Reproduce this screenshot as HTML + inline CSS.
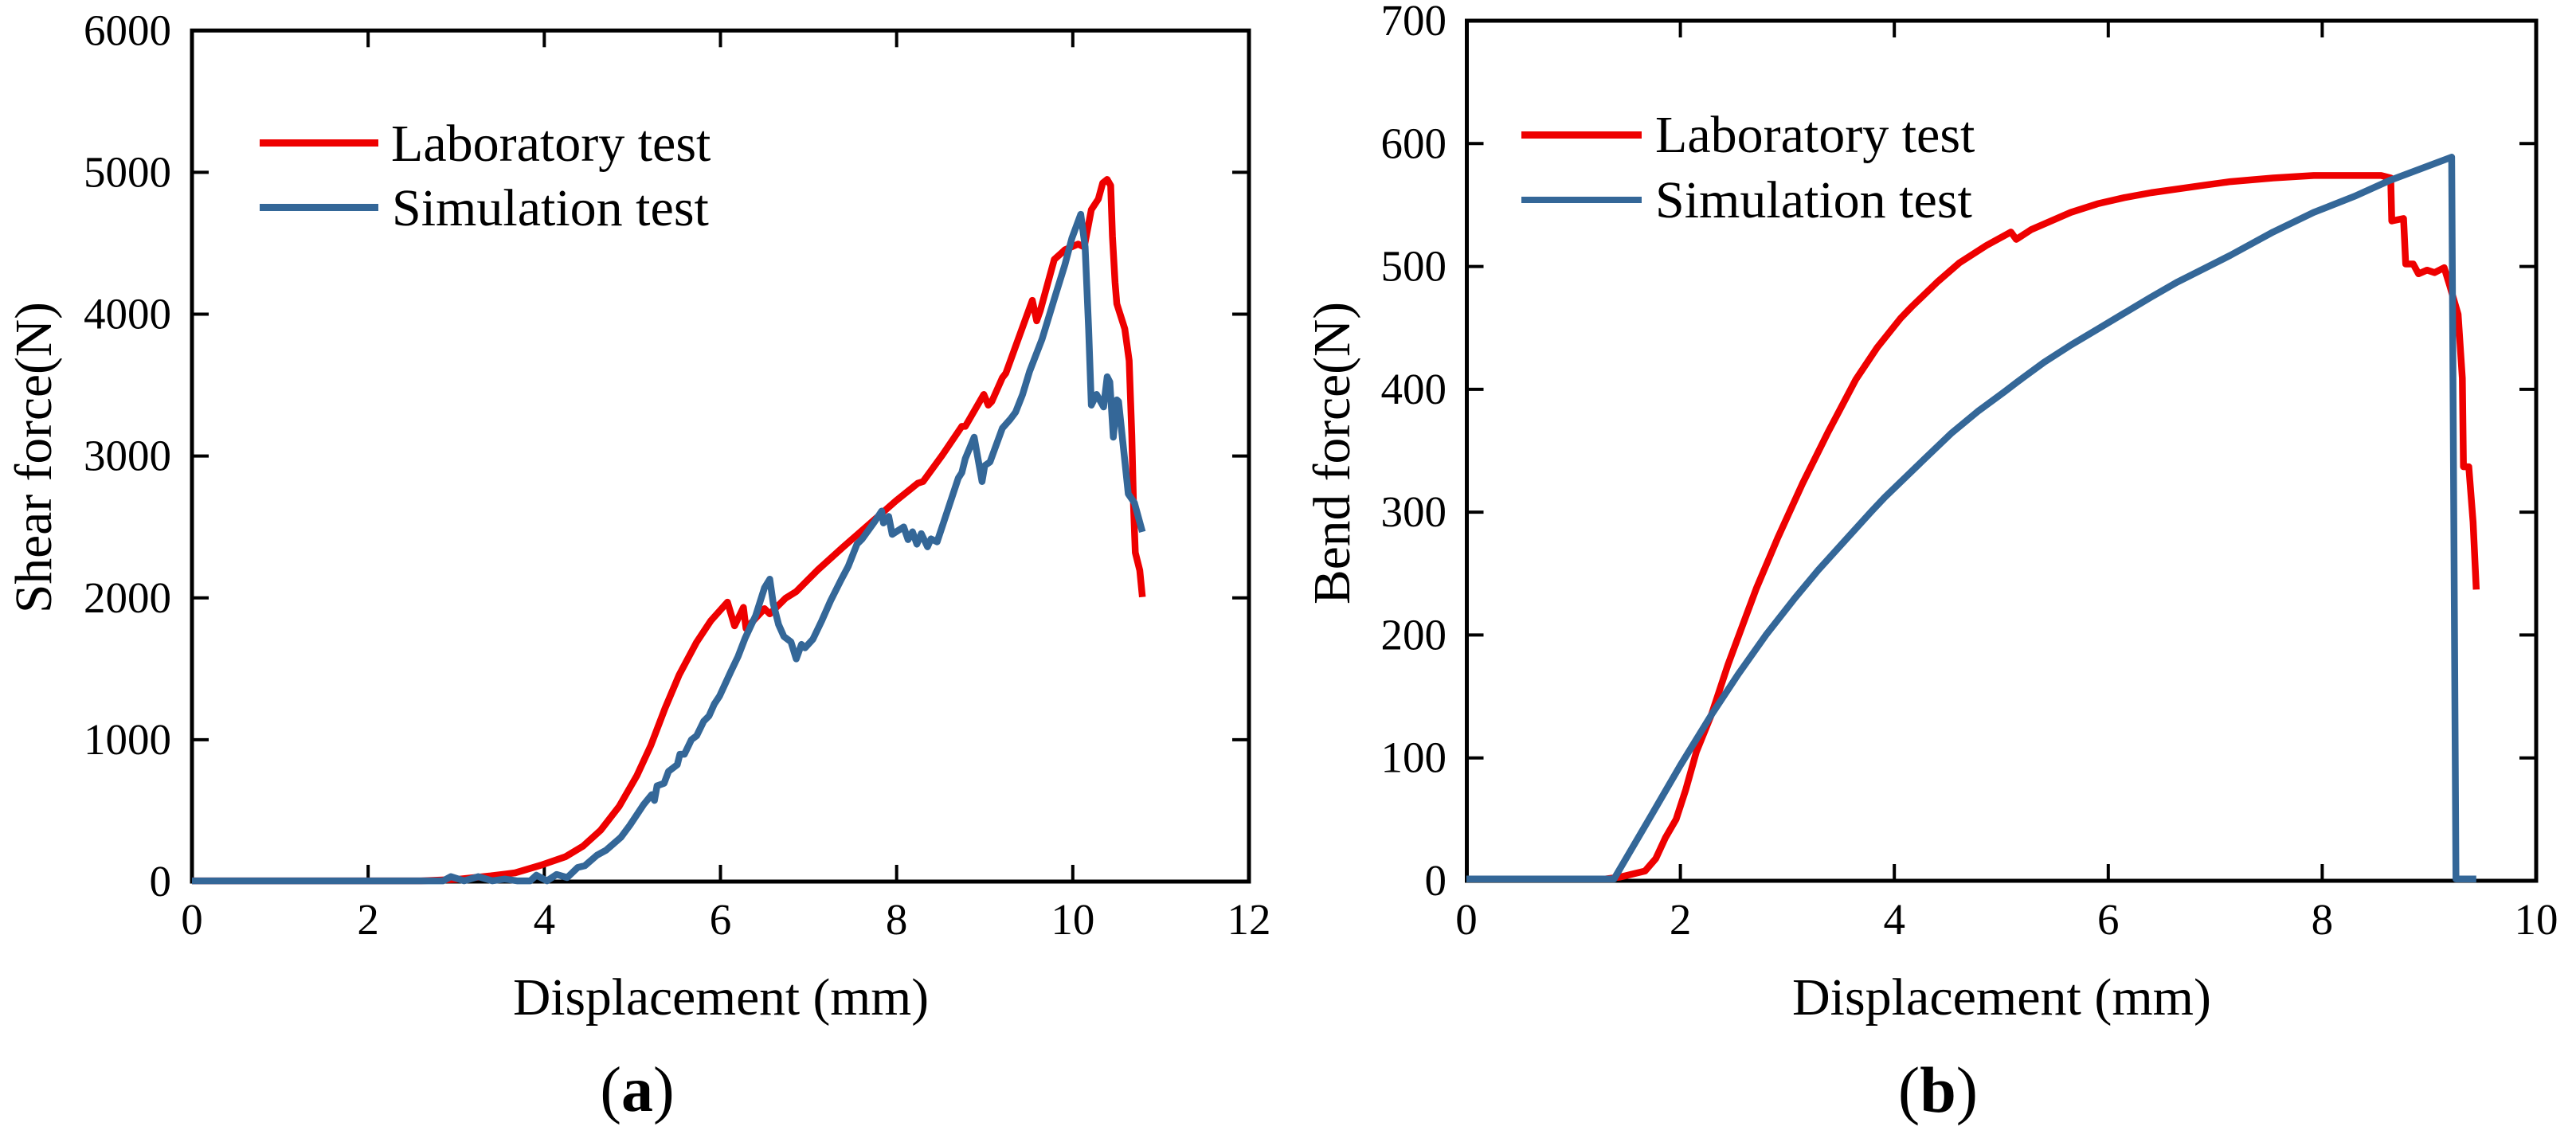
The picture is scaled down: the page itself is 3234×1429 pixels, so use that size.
<!DOCTYPE html>
<html lang="en">
<head>
<meta charset="utf-8">
<title>Shear and bend force versus displacement</title>
<style>
html,body{margin:0;padding:0;background:#fff;width:3234px;height:1429px;overflow:hidden}
svg{display:block}
text{font-family:"Liberation Serif","Times New Roman",serif;fill:#000}
</style>
</head>
<body>
<svg id="figure" xmlns="http://www.w3.org/2000/svg" width="3234" height="1429" viewBox="0 0 3234 1429">
  <rect x="0" y="0" width="3234" height="1429" fill="#ffffff"/>

  <g id="chart-a"></g>
  <g id="chart-b"></g>

  <text x="644" y="1274" font-size="65.5">Displacement (mm)</text>
  <text transform="translate(64,770) rotate(-90)" font-size="65.5">Shear force(N)</text>
  <text x="800" y="1395" font-size="80" text-anchor="middle">(<tspan font-weight="bold">a</tspan>)</text>

  <text x="2250" y="1274" font-size="66">Displacement (mm)</text>
  <text transform="translate(1694,759) rotate(-90)" font-size="65.5">Bend force(N)</text>
  <text x="2433" y="1396" font-size="82" text-anchor="middle">(<tspan font-weight="bold">b</tspan>)</text>

  <g>
    <rect x="326" y="175" width="149" height="9" fill="#ee0000"/>
    <text x="491" y="202" font-size="66">Laboratory test</text>
    <rect x="326" y="256" width="149" height="9" fill="#346798"/>
    <text x="492" y="283" font-size="66">Simulation test</text>
  </g>
  <g>
    <rect x="1910" y="165" width="151" height="9" fill="#ee0000"/>
    <text x="2078" y="191" font-size="66">Laboratory test</text>
    <rect x="1910" y="247" width="151" height="8" fill="#346798"/>
    <text x="2078" y="273" font-size="66">Simulation test</text>
  </g>
</svg>

<script>
// Chart (a): shear force versus displacement
var aXTicks = [0, 2, 4, 6, 8, 10, 12];
var aYTicks = [0, 1000, 2000, 3000, 4000, 5000, 6000];
var aLabX = [0, 2.6, 3.0, 3.39, 3.67, 3.96, 4.24, 4.44, 4.64, 4.85, 5.05, 5.21, 5.37, 5.53, 5.73, 5.89, 6.08, 6.16, 6.26, 6.29, 6.50, 6.56, 6.74, 6.86, 7.10, 7.39, 7.55, 7.99, 8.24, 8.30, 8.52, 8.74, 8.78, 8.99, 9.04, 9.08, 9.20, 9.24, 9.54, 9.59, 9.63, 9.79, 9.87, 9.91, 10.06, 10.13, 10.21, 10.29, 10.34, 10.39, 10.43, 10.45, 10.48, 10.50, 10.59, 10.64, 10.67, 10.69, 10.71, 10.76, 10.79];
var aLabY = [5, 5, 15, 40, 62, 115, 175, 250, 362, 530, 745, 960, 1220, 1455, 1688, 1838, 1970, 1803, 1933, 1784, 1924, 1887, 1998, 2044, 2194, 2357, 2444, 2683, 2808, 2820, 3008, 3209, 3209, 3434, 3359, 3384, 3552, 3584, 4098, 3953, 4023, 4386, 4431, 4454, 4494, 4474, 4737, 4812, 4925, 4950, 4907, 4549, 4223, 4073, 3897, 3672, 3146, 2645, 2319, 2194, 2006];
var aSimX = [0, 2.85, 2.94, 3.09, 3.25, 3.41, 3.55, 3.69, 3.84, 3.91, 4.03, 4.14, 4.26, 4.38, 4.46, 4.60, 4.70, 4.87, 4.97, 5.13, 5.22, 5.25, 5.28, 5.36, 5.41, 5.51, 5.54, 5.59, 5.67, 5.73, 5.81, 5.87, 5.93, 5.99, 6.12, 6.20, 6.28, 6.40, 6.50, 6.56, 6.60, 6.66, 6.72, 6.80, 6.86, 6.92, 6.96, 7.05, 7.15, 7.25, 7.37, 7.45, 7.55, 7.61, 7.75, 7.83, 7.85, 7.91, 7.95, 8.08, 8.13, 8.18, 8.23, 8.28, 8.35, 8.39, 8.46, 8.54, 8.70, 8.74, 8.78, 8.88, 8.97, 9.00, 9.06, 9.20, 9.29, 9.35, 9.43, 9.51, 9.65, 9.81, 9.91, 9.99, 10.09, 10.14, 10.18, 10.21, 10.27, 10.35, 10.39, 10.42, 10.46, 10.50, 10.52, 10.63, 10.70, 10.79];
var aSimY = [5, 5, 35, 5, 35, 5, 18, 5, 5, 45, 5, 50, 28, 100, 112, 187, 220, 312, 396, 545, 613, 572, 675, 693, 777, 824, 898, 898, 1000, 1028, 1131, 1168, 1252, 1308, 1484, 1587, 1717, 1875, 2071, 2132, 1960, 1811, 1728, 1690, 1570, 1672, 1648, 1709, 1839, 1979, 2128, 2221, 2379, 2416, 2537, 2612, 2528, 2574, 2448, 2500, 2411, 2466, 2379, 2453, 2360, 2416, 2395, 2545, 2845, 2883, 2983, 3133, 2820, 2933, 2958, 3196, 3259, 3309, 3434, 3597, 3822, 4148, 4348, 4536, 4704, 4474, 3897, 3359, 3434, 3346, 3559, 3522, 3133, 3396, 3384, 2733, 2670, 2465];

// Chart (b): bend force versus displacement
var bXTicks = [0, 2, 4, 6, 8, 10];
var bYTicks = [0, 100, 200, 300, 400, 500, 600, 700];
var bLabX = [0, 1.3, 1.435, 1.67, 1.77, 1.86, 1.96, 2.05, 2.15, 2.29, 2.445, 2.62, 2.71, 2.91, 3.14, 3.38, 3.64, 3.84, 4.06, 4.16, 4.41, 4.61, 4.86, 5.09, 5.14, 5.28, 5.65, 5.90, 6.15, 6.40, 6.64, 6.89, 7.14, 7.54, 7.92, 8.55, 8.64, 8.65, 8.76, 8.78, 8.85, 8.90, 8.98, 9.05, 9.14, 9.19, 9.27, 9.31, 9.32, 9.37, 9.41, 9.44];
var bLabY = [1.5, 1.5, 3, 8, 18, 35, 50, 74, 105, 135, 176, 217, 238, 279, 323, 365, 408, 434, 458, 467, 488, 503, 517, 528, 522, 530, 544, 551, 556, 560, 563, 566, 569, 572, 574, 574, 572, 537, 539, 502, 502, 494, 497, 495, 499, 485, 461, 409, 337, 337, 292, 237];
var bSimX = [0, 1.38, 1.74, 2.0, 2.29, 2.54, 2.80, 3.07, 3.29, 3.54, 3.79, 3.91, 4.29, 4.53, 4.78, 5.03, 5.15, 5.40, 5.65, 5.90, 6.15, 6.40, 6.64, 6.89, 7.14, 7.54, 7.92, 8.30, 8.63, 9.21, 9.25, 9.44];
var bSimY = [1.5, 1.5, 55, 94, 135, 168, 200, 230, 253, 277, 301, 312, 344, 364, 382, 398, 406, 422, 436, 449, 462, 475, 487, 498, 509, 528, 544, 557, 570, 589, 1.5, 1.5];

var SVG_NS = 'http://www.w3.org/2000/svg';

function linearScale(d0, d1, r0, r1) {
  return function (v) { return r0 + (v - d0) * (r1 - r0) / (d1 - d0); };
}

function seriesPoints(xs, ys, sx, sy) {
  var out = [];
  for (var i = 0; i < xs.length; i++) {
    out.push(sx(xs[i]).toFixed(1) + ',' + sy(ys[i]).toFixed(1));
  }
  return out.join(' ');
}

function addLine(parent, x1, y1, x2, y2, width) {
  var l = document.createElementNS(SVG_NS, 'line');
  l.setAttribute('x1', x1);
  l.setAttribute('y1', y1);
  l.setAttribute('x2', x2);
  l.setAttribute('y2', y2);
  l.setAttribute('stroke', '#000');
  l.setAttribute('stroke-width', width);
  parent.appendChild(l);
  return l;
}

function addText(parent, x, y, str, anchor) {
  var t = document.createElementNS(SVG_NS, 'text');
  t.setAttribute('x', x);
  t.setAttribute('y', y);
  t.setAttribute('font-size', '55');
  t.setAttribute('text-anchor', anchor);
  t.textContent = str;
  parent.appendChild(t);
  return t;
}

function addSeries(parent, pts, color, seriesName) {
  var p = document.createElementNS(SVG_NS, 'polyline');
  p.setAttribute('points', pts);
  p.setAttribute('fill', 'none');
  p.setAttribute('stroke', color);
  p.setAttribute('stroke-width', '8.5');
  p.setAttribute('stroke-linejoin', 'round');
  p.setAttribute('stroke-linecap', 'butt');
  
  
  parent.appendChild(p);
}

function drawAxes(g, xTicks, yTicks, sx, sy, left, right, top, bottom, yLabelX, xLabelY) {
  var frame = document.createElementNS(SVG_NS, 'rect');
  frame.setAttribute('x', left);
  frame.setAttribute('y', top);
  frame.setAttribute('width', right - left);
  frame.setAttribute('height', bottom - top);
  frame.setAttribute('fill', 'none');
  frame.setAttribute('stroke', '#000');
  frame.setAttribute('stroke-width', '5');
  
  
  g.appendChild(frame);

  xTicks.forEach(function (v, i) {
    var x = sx(v);
    if (i > 0 && i < xTicks.length - 1) {
      var tb = addLine(g, x, bottom, x, bottom - 21, 4);
      
      
      var tt = addLine(g, x, top, x, top + 21, 4);
      
      
    }
    var lab = addText(g, x, xLabelY, String(v), 'middle');
    
    
  });

  yTicks.forEach(function (v, i) {
    var y = sy(v);
    if (i > 0 && i < yTicks.length - 1) {
      var tl = addLine(g, left, y, left + 21, y, 4);
      
      
      var tr = addLine(g, right, y, right - 21, y, 4);
      
      
    }
    var lab = addText(g, yLabelX, y + 18, String(v), 'end');
    
    
  });
}

// Panel (a)
var gA = document.getElementById('chart-a');
var sxA = linearScale(0, 12, 241, 1568);
var syA = linearScale(0, 6000, 1107, 38.3);
drawAxes(gA, aXTicks, aYTicks, sxA, syA, 241, 1568, 38.3, 1107, 215, 1173);
addSeries(gA, seriesPoints(aLabX, aLabY, sxA, syA), '#ee0000', 'laboratory-test-line-a');
addSeries(gA, seriesPoints(aSimX, aSimY, sxA, syA), '#346798', 'simulation-test-line-a');

// Panel (b)
var gB = document.getElementById('chart-b');
var sxB = linearScale(0, 10, 1841, 3184);
var syB = linearScale(0, 700, 1106, 26);
drawAxes(gB, bXTicks, bYTicks, sxB, syB, 1841.5, 3184, 26, 1106, 1816, 1173);
addSeries(gB, seriesPoints(bLabX, bLabY, sxB, syB), '#ee0000', 'laboratory-test-line-b');
addSeries(gB, seriesPoints(bSimX, bSimY, sxB, syB), '#346798', 'simulation-test-line-b');
</script>
</body>
</html>
